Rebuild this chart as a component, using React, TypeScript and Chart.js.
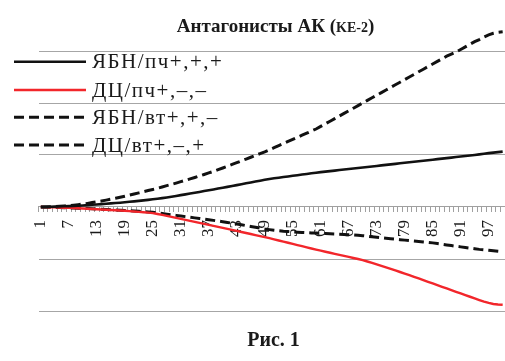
import React, { useEffect, useRef } from "react";
import { Chart, registerables } from "chart.js";

Chart.register(...registerables);

// ---- data ----
const categories: string[] = Array.from({ length: 100 }, (_, i) => String(i + 1));
const tickLabels = ["1", "7", "13", "19", "25", "31", "37", "43", "49", "55", "61", "67", "73", "79", "85", "91", "97"];

const seriesNames = ["ЯБН/пч+,+,+", "ДЦ/пч+,–,–", "ЯБН/вт+,+,–", "ДЦ/вт+,–,+"];

const ybnPch = [
  0, 0, 0.005, 0.008, 0.01, 0.013, 0.016, 0.02, 0.024, 0.03,
  0.036, 0.042, 0.048, 0.055, 0.062, 0.069, 0.076, 0.083, 0.091, 0.1,
  0.108, 0.117, 0.127, 0.137, 0.148, 0.159, 0.171, 0.184, 0.198, 0.213,
  0.228, 0.243, 0.258, 0.274, 0.29, 0.306, 0.322, 0.338, 0.354, 0.37,
  0.387, 0.404, 0.421, 0.438, 0.455, 0.472, 0.489, 0.506, 0.523, 0.54,
  0.552, 0.564, 0.576, 0.588, 0.6, 0.612, 0.624, 0.636, 0.648, 0.66,
  0.67, 0.68, 0.69, 0.7, 0.71, 0.72, 0.73, 0.74, 0.75, 0.76,
  0.77, 0.78, 0.79, 0.8, 0.81, 0.82, 0.83, 0.84, 0.85, 0.86,
  0.87, 0.88, 0.89, 0.9, 0.91, 0.92, 0.93, 0.94, 0.95, 0.96,
  0.97, 0.98, 0.99, 1.0, 1.012, 1.024, 1.036, 1.046, 1.056, 1.065,
];

const dcPch = [
  0, -0.002, -0.004, -0.007, -0.01, -0.013, -0.017, -0.021, -0.025, -0.03,
  -0.034, -0.038, -0.042, -0.047, -0.052, -0.057, -0.062, -0.067, -0.073, -0.08,
  -0.087, -0.094, -0.101, -0.108, -0.117, -0.134, -0.152, -0.17, -0.19, -0.21,
  -0.229, -0.248, -0.267, -0.286, -0.305, -0.324, -0.343, -0.362, -0.381, -0.4,
  -0.42, -0.44, -0.46, -0.48, -0.5, -0.52, -0.54, -0.56, -0.58, -0.6,
  -0.622, -0.644, -0.666, -0.688, -0.71, -0.732, -0.754, -0.776, -0.798, -0.82,
  -0.84, -0.86, -0.88, -0.9, -0.92, -0.94, -0.96, -0.98, -1.0, -1.02,
  -1.048, -1.076, -1.104, -1.132, -1.16, -1.19, -1.22, -1.25, -1.28, -1.31,
  -1.342, -1.374, -1.406, -1.438, -1.47, -1.502, -1.534, -1.566, -1.598, -1.63,
  -1.662, -1.694, -1.726, -1.758, -1.79, -1.82, -1.845, -1.865, -1.875, -1.88,
];

const ybnVt = [
  0, 0.002, 0.005, 0.009, 0.014, 0.02, 0.027, 0.035, 0.045, 0.057,
  0.07, 0.085, 0.1, 0.115, 0.132, 0.15, 0.168, 0.187, 0.207, 0.228,
  0.25, 0.272, 0.294, 0.316, 0.338, 0.361, 0.385, 0.41, 0.435, 0.46,
  0.487, 0.514, 0.541, 0.568, 0.596, 0.625, 0.655, 0.686, 0.718, 0.75,
  0.784, 0.818, 0.852, 0.887, 0.922, 0.957, 0.992, 1.027, 1.062, 1.1,
  1.14, 1.18, 1.22, 1.26, 1.3, 1.34, 1.38, 1.42, 1.46, 1.5,
  1.55, 1.6, 1.65, 1.7, 1.75, 1.8, 1.85, 1.9, 1.95, 2.0,
  2.05, 2.1, 2.15, 2.2, 2.25, 2.3, 2.35, 2.4, 2.45, 2.5,
  2.55, 2.6, 2.65, 2.7, 2.75, 2.8, 2.85, 2.9, 2.94, 2.98,
  3.03, 3.08, 3.13, 3.18, 3.22, 3.27, 3.31, 3.34, 3.36, 3.37,
];

const dcVt = [
  0, -0.002, -0.004, -0.007, -0.01, -0.013, -0.016, -0.019, -0.022, -0.025,
  -0.029, -0.033, -0.037, -0.041, -0.046, -0.051, -0.056, -0.061, -0.066, -0.071,
  -0.077, -0.083, -0.089, -0.095, -0.101, -0.113, -0.125, -0.137, -0.149, -0.161,
  -0.173, -0.185, -0.197, -0.209, -0.221, -0.233, -0.245, -0.257, -0.27, -0.284,
  -0.298, -0.312, -0.326, -0.342, -0.358, -0.374, -0.39, -0.406, -0.422, -0.435,
  -0.446, -0.456, -0.465, -0.472, -0.478, -0.484, -0.489, -0.494, -0.498, -0.502,
  -0.506, -0.51, -0.514, -0.518, -0.522, -0.527, -0.533, -0.539, -0.545, -0.552,
  -0.562, -0.572, -0.582, -0.592, -0.602, -0.611, -0.62, -0.629, -0.637, -0.645,
  -0.654, -0.663, -0.672, -0.681, -0.69, -0.703, -0.716, -0.729, -0.742, -0.755,
  -0.767, -0.779, -0.791, -0.803, -0.815, -0.824, -0.833, -0.842, -0.851, -0.86,
];

const yGridValues = [-2, -1, 0, 1, 2, 3];

const titleMain = "Антагонисты АК (";
const titleSmall = "KE-2";
const titleEnd = ")";
const caption = "Рис. 1";

const SERIF = '"Liberation Serif", "Times New Roman", serif';

const overlayPlugin = {
  id: "overlay",
  afterDraw(chart: any) {
    const ctx = chart.ctx as CanvasRenderingContext2D;
    ctx.save();
    // title
    ctx.fillStyle = "#1a1a1a";
    ctx.textBaseline = "alphabetic";
    ctx.textAlign = "left";
    const bigFont = `bold 19px ${SERIF}`;
    const smallFont = `bold 14px ${SERIF}`;
    ctx.font = bigFont;
    const w1 = ctx.measureText(titleMain).width;
    const w3 = ctx.measureText(titleEnd).width;
    ctx.font = smallFont;
    const w2 = ctx.measureText(titleSmall).width;
    const total = w1 + w2 + w3;
    let x = 275.5 - total / 2;
    const ty = 32;
    ctx.font = bigFont;
    ctx.fillText(titleMain, x, ty);
    x += w1;
    ctx.font = smallFont;
    ctx.fillText(titleSmall, x, ty);
    x += w2;
    ctx.font = bigFont;
    ctx.fillText(titleEnd, x, ty);

    // caption
    ctx.font = `bold 20px ${SERIF}`;
    ctx.textAlign = "center";
    ctx.fillText(caption, 273.5, 346);

    // legend
    const rows = [61.7, 90, 117.3, 145];
    chart.data.datasets.forEach((ds: any, i: number) => {
      const y = rows[i];
      ctx.beginPath();
      ctx.strokeStyle = ds.borderColor;
      ctx.lineWidth = ds.borderWidth;
      ctx.setLineDash(ds.borderDash || []);
      ctx.moveTo(14, y);
      ctx.lineTo(86, y);
      ctx.stroke();
      ctx.setLineDash([]);
      ctx.fillStyle = "#1a1a1a";
      ctx.font = `21px ${SERIF}`;
      (ctx as any).letterSpacing = "1.5px";
      ctx.textAlign = "left";
      ctx.fillText(ds.label, 92, y + 6.5);
      (ctx as any).letterSpacing = "0px";
    });
    ctx.restore();
  },
};

export default function App() {
  const ref = useRef<HTMLCanvasElement | null>(null);
  useEffect(() => {
    if (!ref.current) return;
    const chart = new Chart(ref.current, {
      type: "line",
      data: {
        labels: categories,
        datasets: [
          { label: seriesNames[0], data: ybnPch, borderColor: "#111111", borderWidth: 2.6, pointRadius: 0, fill: false },
          { label: seriesNames[1], data: dcPch, borderColor: "#f2262b", borderWidth: 2.4, pointRadius: 0, fill: false },
          { label: seriesNames[2], data: ybnVt, borderColor: "#111111", borderWidth: 3, borderDash: [10, 5], pointRadius: 0, fill: false },
          { label: seriesNames[3], data: dcVt, borderColor: "#111111", borderWidth: 3, borderDash: [10, 5], pointRadius: 0, fill: false },
        ],
      },
      options: {
        responsive: false,
        maintainAspectRatio: false,
        animation: false,
        events: [],
        layout: { padding: { left: 38.5, right: 0, top: 27.6, bottom: 50 } },
        plugins: {
          legend: { display: false },
          title: { display: false },
          tooltip: { enabled: false },
        },
        scales: {
          x: {
            type: "category",
            position: { y: 0 } as any,
            offset: true,
            afterFit: (scale: any) => {
              scale.paddingLeft = 0;
              scale.paddingRight = 0;
              scale.paddingTop = 0;
              scale.paddingBottom = 0;
            },
            grid: {
              display: true,
              offset: true,
              drawOnChartArea: false,
              drawTicks: true,
              tickLength: 5,
              color: "#a0a0a0",
              lineWidth: 1,
            },
            border: { display: true, color: "#a0a0a0", width: 1 },
            ticks: {
              autoSkip: false,
              maxRotation: 90,
              minRotation: 90,
              padding: 8,
              color: "#1a1a1a",
              font: { family: SERIF, size: 17 },
              callback: (_v: any, idx: number) => (idx % 6 === 0 ? tickLabels[idx / 6] : ""),
            },
          },
          y: {
            type: "linear",
            min: -2,
            max: 3.45,
            afterBuildTicks: (scale: any) => {
              scale.ticks = yGridValues.map((v) => ({ value: v }));
            },
            grid: { display: true, drawTicks: false, color: "#a6a6a6", lineWidth: 1 },
            border: { display: false },
            ticks: { display: false },
          },
        },
      },
      plugins: [overlayPlugin],
    });
    return () => chart.destroy();
  }, []);
  return (
    <div style={{ position: "fixed", left: 0, top: 0, width: 505, height: 361, background: "#fff" }}>
      <canvas ref={ref} width={505} height={361} style={{ width: 505, height: 361, display: "block" }} />
    </div>
  );
}
